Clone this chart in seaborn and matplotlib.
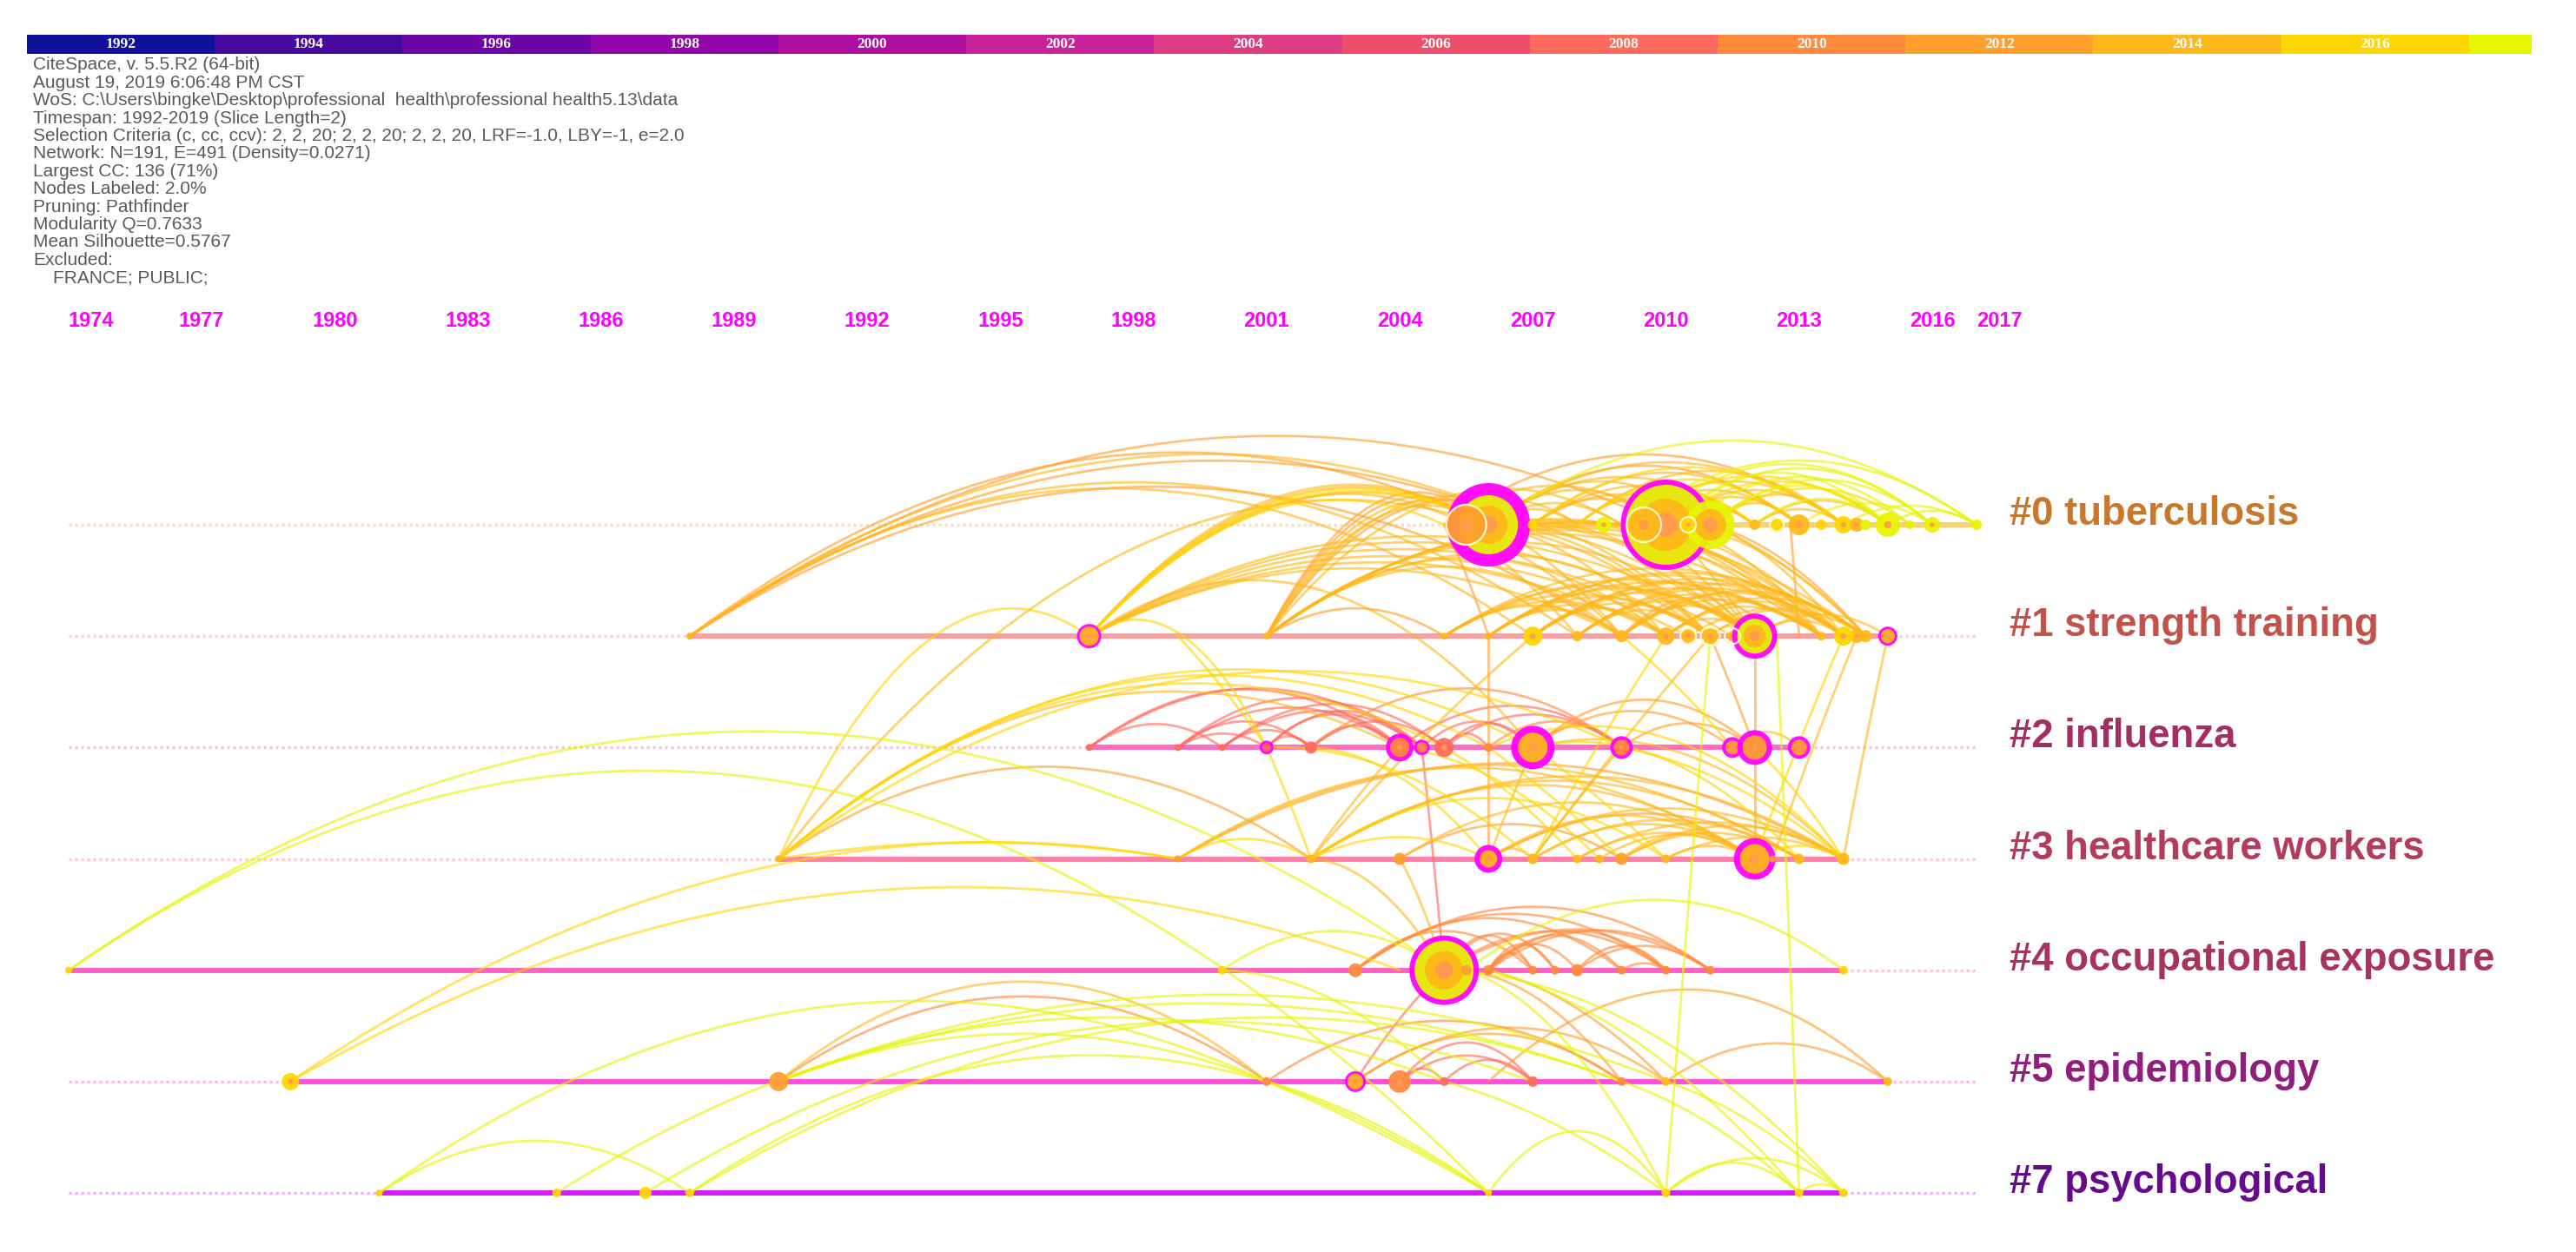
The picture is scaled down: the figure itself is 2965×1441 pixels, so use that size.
import numpy as np
import pandas as pd
import matplotlib
matplotlib.use("Agg")
import matplotlib.pyplot as plt
from matplotlib.colors import ListedColormap
import seaborn as sns

# ---- data ----

SLICE_YEARS = [1992, 1994, 1996, 1998, 2000, 2002, 2004, 2006, 2008, 2010, 2012, 2014, 2016, 2018]
SLICE_COLORS = ['#10109a', '#48099e', '#6c04a6', '#9006a8', '#ad0e9f', '#c8229a', '#dc3c82',
                '#ee4e6c', '#ff6a5c', '#ff8a3c', '#ff9f2e', '#ffb81a', '#ffd600', '#e6f500']

TIME_TICKS = [1974, 1977, 1980, 1983, 1986, 1989, 1992, 1995, 1998, 2001, 2004, 2007, 2010, 2013, 2016, 2017]

INFO_LINES = [
    'CiteSpace, v. 5.5.R2 (64-bit)',
    'August 19, 2019 6:06:48 PM CST',
    'WoS: C:\\Users\\bingke\\Desktop\\professional  health\\professional health5.13\\data',
    'Timespan: 1992-2019 (Slice Length=2)',
    'Selection Criteria (c, cc, ccv): 2, 2, 20; 2, 2, 20; 2, 2, 20, LRF=-1.0, LBY=-1, e=2.0',
    'Network: N=191, E=491 (Density=0.0271)',
    'Largest CC: 136 (71%)',
    'Nodes Labeled: 2.0%',
    'Pruning: Pathfinder',
    'Modularity Q=0.7633',
    'Mean Silhouette=0.5767',
    'Excluded:',
    '    FRANCE; PUBLIC;',
]

CLUSTER_NAMES = ['#0 tuberculosis', '#1 strength training', '#2 influenza', '#3 healthcare workers',
                 '#4 occupational exposure', '#5 epidemiology', '#7 psychological']
CLUSTER_COLORS = ['#c9772b', '#c2524a', '#a32f62', '#b23c5c', '#a6345f', '#8e1f7c', '#650a8a']
ROW_COLORS = ['#ffcf70', '#ff9c9c', '#ff6cc0', '#ff7fa8', '#ff60c4', '#ff4fdc', '#d61cff']
DOT_COLORS = ['#ffdcb8', '#ffd0d0', '#ffc0e0', '#ffc8d8', '#ffc0e4', '#ffb8ec', '#f0b0ff']

# nodes: year, radius px, magenta ring px, fill slice
NODES_0 = [(2006, 48, 14, 2018), (2005.5, 23, 0, 2012), (2007, 6, 0, 2016), (2008.6, 9, 0, 2018),
           (2010, 52, 6, 2018), (2009.5, 18, 0, 2014), (2011, 28, 0, 2018), (2010.5, 8, 0, 2016),
           (2012, 6, 0, 2014), (2012.5, 7, 0, 2016), (2013, 12, 0, 2014), (2013.5, 6, 0, 2016),
           (2014, 10, 0, 2016), (2014.3, 8, 0, 2014), (2014.5, 6, 0, 2018), (2015, 14, 0, 2018),
           (2015.5, 5, 0, 2018), (2016, 9, 0, 2018), (2017, 6, 0, 2018)]
NODES_1 = [(1988, 4, 0, 2014), (1997, 14, 3, 2014), (2001, 4, 0, 2014), (2005, 4, 0, 2014), (2006, 4, 0, 2014),
           (2007, 11, 0, 2016), (2008, 6, 0, 2014), (2009, 7, 0, 2014), (2010, 10, 0, 2014),
           (2010.5, 8, 0, 2014), (2011, 9, 0, 2014), (2011.5, 6, 0, 2014), (2012, 26, 6, 2018),
           (2013.5, 5, 0, 2014), (2014.3, 8, 0, 2014), (2014, 11, 0, 2016), (2014.5, 7, 0, 2014), (2015, 11, 3, 2014)]
NODES_2 = [(1997, 4, 0, 2008), (1999, 4, 0, 2008), (2000, 4, 0, 2008), (2001, 8, 3, 2008), (2002, 7, 0, 2008),
           (2004, 16, 5, 2010), (2004.5, 9, 3, 2010), (2005, 11, 0, 2008), (2006, 5, 0, 2010),
           (2007, 25, 8, 2014), (2009, 13, 4, 2010), (2011.5, 12, 4, 2012), (2012, 20, 6, 2012), (2013, 13, 4, 2012)]
NODES_3 = [(1990, 4, 0, 2014), (1999, 4, 0, 2012), (2002, 5, 0, 2014), (2004, 7, 0, 2012), (2006, 16, 6, 2014),
           (2007, 6, 0, 2014), (2008, 5, 0, 2014), (2008.5, 5, 0, 2014), (2009, 7, 0, 2012), (2010, 5, 0, 2014),
           (2012, 24, 7, 2014), (2012.4, 4, 0, 2012), (2013, 6, 0, 2014), (2014, 7, 0, 2014)]
NODES_4 = [(1974, 4, 0, 2016), (2000, 5, 0, 2016), (2003, 8, 0, 2010), (2005, 40, 6, 2018), (2005.5, 6, 0, 2012),
           (2006, 6, 0, 2010), (2007, 5, 0, 2010), (2007.5, 5, 0, 2010), (2008, 7, 0, 2010), (2009, 5, 0, 2010),
           (2010, 5, 0, 2010), (2011, 5, 0, 2010), (2014, 5, 0, 2016)]
NODES_5 = [(1979, 10, 0, 2016), (1990, 11, 0, 2012), (2001, 5, 0, 2010), (2003, 12, 3, 2014), (2004, 13, 0, 2010),
           (2005, 5, 0, 2008), (2007, 6, 0, 2008), (2009, 5, 0, 2010), (2010, 5, 0, 2014), (2015, 5, 0, 2014)]
NODES_6 = [(1981, 4, 0, 2016), (1985, 5, 0, 2016), (1987, 7, 0, 2016), (1988, 5, 0, 2016),
           (2006, 4, 0, 2016), (2010, 5, 0, 2016), (2013, 5, 0, 2016), (2014, 5, 0, 2016)]
ALL_NODES = [NODES_0, NODES_1, NODES_2, NODES_3, NODES_4, NODES_5, NODES_6]

# pale rings on top of nodes: row, year, radius px
PALE_RINGS = [(0, 2005.5, 23), (0, 2009.5, 20), (0, 2010.5, 9), (0, 2012.5, 8), (1, 2011.5, 9), (1, 2010.5, 9), (1, 2011, 11)]

# arcs inside one row: from year, to year, height px, slice
ARCS_0 = [(2006, 2017, 97, 2018), (2009, 2017, 74, 2018), (2009.5, 2016, 70, 2018), (2010, 2015, 60, 2018),
          (2010, 2016, 65, 2018), (2011, 2016, 52, 2018), (2010.5, 2015.5, 55, 2018), (2011, 2015, 45, 2018),
          (2012, 2015, 30, 2018), (2013, 2016, 25, 2018), (2014, 2017, 22, 2018), (2015, 2017, 16, 2018),
          (2005, 2014, 81, 2012), (2006, 2013, 68, 2012), (2006, 2012, 55, 2014), (2007, 2013, 60, 2014),
          (2007, 2012, 45, 2014), (2008, 2014, 62, 2014), (2009, 2014, 50, 2014), (2009, 2013, 40, 2014),
          (2010, 2014, 40, 2014), (2010, 2013, 32, 2014), (2010, 2012, 20, 2014), (2011, 2014, 35, 2014),
          (2011, 2013, 25, 2014), (2012, 2015, 28, 2014), (2012, 2014, 18, 2014), (2006, 2011, 50, 2014),
          (2006, 2010, 40, 2014), (2007, 2010, 30, 2014), (2008, 2011, 32, 2014), (2006, 2009, 25, 2014),
          (2005, 2008, 28, 2014), (2005, 2010, 45, 2014), (2007, 2011, 35, 2014), (2008, 2013, 52, 2016),
          (2009, 2012, 30, 2016), (2011, 2015.5, 42, 2016), (2006, 2014, 72, 2014), (2007, 2014, 66, 2016),
          (2008, 2012, 42, 2016), (2009, 2015, 56, 2016), (2010, 2015, 50, 2016), (2006, 2008, 18, 2014)]
ARCS_1 = [(1988, 2008, 177, 2014), (1988, 2007, 170, 2014), (1988, 2009, 172, 2012),
          (1997, 2012, 115, 2014), (1997, 2011.5, 108, 2014), (1997, 2011, 100, 2014),
          (1997, 2010.5, 92, 2014), (1997, 2010, 85, 2014), (1997, 2009, 78, 2014),
          (2001, 2014.5, 125, 2014), (2001, 2014, 122, 2014), (2001, 2013.5, 118, 2014), (2001, 2012, 108, 2014),
          (2001, 2011, 95, 2014), (2001, 2010, 90, 2014), (2001, 2009, 80, 2014), (2001, 2005, 32, 2012),
          (2005, 2014.5, 78, 2014), (2006, 2014, 70, 2014), (2005, 2013.5, 65, 2014), (2006, 2012, 55, 2014),
          (2007, 2014, 62, 2014), (2007, 2013.5, 55, 2014), (2007, 2012, 50, 2014), (2008, 2014, 55, 2014),
          (2008, 2012, 40, 2014), (2009, 2014, 50, 2014), (2009, 2012, 35, 2014), (2010, 2014, 40, 2014),
          (2010, 2012, 20, 2014), (2011, 2014, 30, 2014), (2010.5, 2014.5, 32, 2014), (2011, 2012, 12, 2014),
          (2012, 2014, 18, 2014), (2012, 2015, 25, 2014), (2005, 2010, 40, 2014), (2005, 2009, 35, 2014),
          (2006, 2009, 30, 2014), (2006, 2011, 45, 2014), (2007, 2010, 32, 2014), (2007, 2011, 38, 2014),
          (2008, 2011, 30, 2014), (2009, 2012.5, 45, 2012), (2006, 2014.5, 73, 2014), (2006, 2013.5, 62, 2014),
          (2007, 2014.5, 66, 2014), (2008, 2014.5, 60, 2014), (2008, 2013.5, 48, 2014), (2009, 2014.5, 52, 2014),
          (2009, 2013.5, 42, 2014), (2010, 2014.5, 44, 2014), (2010, 2013.5, 34, 2014), (2005, 2012, 58, 2014),
          (2005, 2011, 48, 2014), (2006, 2010, 36, 2014)]
ARCS_2 = [(1997, 2004, 67, 2008), (1997, 2004.5, 68, 2008), (1997, 2000, 27, 2008), (1999, 2004, 46, 2008),
          (1999, 2004.5, 57, 2008), (2000, 2004.5, 42, 2008), (2000, 2005, 50, 2008), (2001, 2004, 38, 2008),
          (2001, 2004.5, 42, 2008), (2002, 2004, 25, 2008), (2001, 2002, 13, 2008), (2000, 2002, 20, 2008),
          (1999, 2001, 16, 2008), (1999, 2002, 30, 2008), (2002, 2005, 30, 2008), (2004.5, 2007, 30, 2008),
          (2005, 2007, 28, 2008), (2005, 2006, 16, 2008), (2004, 2009, 48, 2008), (2006, 2009, 30, 2010),
          (2005, 2009, 38, 2008), (2007, 2009, 25, 2010), (2002, 2009, 68, 2010),
          (2007, 2012, 55, 2012), (2007, 2011.5, 42, 2012), (2009, 2012, 28, 2012), (2011.5, 2013, 18, 2014)]
ARCS_3 = [(1990, 2002, 106, 2012), (1990, 1999, 19, 2016), (1999, 2002, 23, 2016),
          (1999, 2014, 110, 2012), (1999, 2012, 105, 2014), (1999, 2013, 108, 2014), (2002, 2014, 95, 2014),
          (2002, 2012, 85, 2014), (2002, 2013, 90, 2014), (2002, 2010, 70, 2016), (2004, 2012, 65, 2014), (2004, 2009, 40, 2012),
          (2006, 2012, 50, 2014), (2006, 2013, 52, 2012), (2006, 2014, 58, 2014), (2007, 2012, 40, 2014),
          (2007, 2013, 45, 2014), (2008, 2012, 30, 2014), (2008, 2014, 42, 2014), (2009, 2012, 30, 2014),
          (2009, 2014, 38, 2014), (2009, 2013, 30, 2014), (2008.5, 2012, 28, 2014), (2010, 2012, 15, 2014),
          (2010, 2014, 25, 2014), (2012, 2014, 15, 2016), (2002, 2006, 25, 2016), (2006, 2007, 12, 2014)]
ARCS_4 = [(2003, 2011, 73, 2010), (2003, 2010, 65, 2010), (2003, 2009, 60, 2010), (2003, 2007, 45, 2010),
          (2005, 2010, 45, 2010), (2005, 2011, 47, 2010), (2006, 2010, 45, 2010), (2006, 2011, 46, 2010),
          (2006, 2009, 40, 2010), (2006, 2008, 30, 2010), (2006, 2007, 20, 2010), (2005, 2007.5, 42, 2010),
          (2005, 2007, 40, 2010), (2006, 2007.5, 30, 2010), (2008, 2011, 28, 2010), (2008, 2010, 28, 2010),
          (2009, 2010, 8, 2010), (2005.5, 2014, 81, 2018), (2000, 2005, 45, 2018)]
ARCS_5 = [(1990, 2001, 98, 2010), (1990, 2001, 115, 2014), (1990, 2001, 55, 2018), (1990, 2010, 100, 2018),
          (1990, 2009, 90, 2018), (2001, 2009, 70, 2010), (2003, 2010, 62, 2012), (2003, 2009, 55, 2012),
          (2004, 2007, 45, 2008), (2004, 2007, 30, 2008), (2004, 2005, 15, 2008), (2005, 2007, 25, 2008),
          (2010, 2015, 44, 2012), (2006, 2015, 106, 2012)]
ARCS_6 = [(1981, 1988, 60, 2018), (2006, 2010, 71, 2018), (2010, 2013, 35, 2018),
          (2010, 2014, 40, 2018), (2013, 2014, 10, 2018)]
ALL_ARCS = [ARCS_0, ARCS_1, ARCS_2, ARCS_3, ARCS_4, ARCS_5, ARCS_6]

# arcs between rows: row, year, row, year, bulge px, slice
LINKS = [(1, 1988, 0, 2010, 160, 2012), (1, 1988, 0, 2006, 140, 2012), (1, 1988, 0, 2007, 130, 2012), (1, 1988, 0, 2007, 138, 2014),
         (1, 1997, 0, 2006, 100, 2014), (1, 1997, 0, 2006, 90, 2014), (1, 1997, 0, 2006, 95, 2016), (1, 1997, 0, 2005, 80, 2016),
         (1, 1997, 0, 2006, 97, 2014), (1, 1997, 0, 2006, 92, 2016), (1, 1997, 0, 2005.5, 88, 2014),
         (1, 1997, 2, 2007, 120, 2014),
         (1, 2001, 0, 2006, 90, 2012), (1, 2001, 0, 2006, 78, 2014), (1, 2001, 0, 2007, 85, 2014), (1, 2001, 0, 2009, 95, 2014),
         (1, 2001, 0, 2006, 84, 2012), (1, 2001, 0, 2007, 80, 2012), (1, 2001, 0, 2006, 72, 2014),
         (3, 1990, 1, 1997, 128, 2016), (3, 1990, 0, 2006, 165, 2014),
         (3, 1990, 2, 2007, 147, 2016), (3, 1990, 2, 2006, 140, 2016), (3, 1990, 2, 2009, 145, 2016),
         (3, 1990, 2, 2004, 120, 2014), (3, 1990, 2, 2005, 130, 2016), (1, 1997, 2, 2001, 68, 2016),
         (4, 1974, 4, 2005, 275, 2018), (4, 1974, 6, 2006, 346, 2018),
         (5, 1979, 3, 1999, 110, 2016), (5, 1979, 4, 2004, 153, 2016),
         (6, 1981, 5, 2001, 150, 2018), (6, 1985, 5, 2005, 130, 2018), (6, 1987, 5, 2007, 125, 2018),
         (6, 1988, 5, 2001, 82, 2018), (6, 1988, 5, 2009, 130, 2018),
         # row 0 down to row 1
         (0, 2005, 1, 2012, 40, 2014), (0, 2006, 1, 2012, 45, 2014), (0, 2006, 1, 2014, 50, 2014), (0, 2007, 1, 2013.5, 45, 2014),
         (0, 2007, 1, 2012, 30, 2014), (0, 2009, 1, 2014, 30, 2014), (0, 2010, 1, 2014.5, 30, 2014), (0, 2010, 1, 2013.5, 25, 2014),
         (0, 2011, 1, 2014.5, 20, 2012), (0, 2011, 1, 2014, 18, 2014), (0, 2006, 1, 2009, 15, 2014), (0, 2005, 1, 2009, 20, 2014),
         (0, 2005, 1, 2008, 14, 2014), (0, 2006, 1, 2011, 30, 2014), (0, 2010, 1, 2012, 8, 2014), (0, 2005, 1, 2006, 6, 2012),
         (0, 2006, 1, 2013.5, 48, 2014), (0, 2006, 1, 2010, 24, 2014), (0, 2005, 1, 2011, 36, 2014), (0, 2007, 1, 2011, 22, 2014),
         (0, 2007, 1, 2014, 44, 2014), (0, 2009, 1, 2012, 16, 2014), (0, 2009, 1, 2013.5, 26, 2014), (0, 2011, 1, 2014.5, 14, 2014),
         # near straight links
         (1, 2006, 3, 2006, 0, 2012), (1, 2013, 0, 2012.8, 4, 2012), (1, 2011, 6, 2010, 6, 2018), (1, 2012.5, 6, 2013, 6, 2018),
         (2, 2004.5, 4, 2005, 5, 2008), (4, 2005, 5, 2003, 8, 2008), (1, 1999, 2, 2001, 5, 2016), (2, 2001, 3, 2002, 3, 2016),
         (1, 2007, 3, 2002, 10, 2014), (2, 2004, 3, 2002, 4, 2014), (1, 2012, 2, 2012, 2, 2012), (2, 2012, 3, 2012, 2, 2012),
         (1, 2015, 3, 2014, 6, 2014), (1, 2014, 3, 2012, 5, 2016), (1, 2014.3, 3, 2012.4, 5, 2014), (1, 2011, 3, 2007, 5, 2014), (1, 2010, 3, 2007, 5, 2016),
         (1, 2009, 2, 2011.5, 6, 2016), (1, 2011, 2, 2012, 2, 2012), (2, 2007, 3, 2010, 5, 2016), (2, 2007, 3, 2006, 2, 2014),
         (2, 2009, 3, 2007, 3, 2014), (2, 2006, 3, 2009, 4, 2016), (2, 2005, 3, 2008, 10, 2016), (2, 2004, 3, 2008.5, 25, 2016),
         (2, 2002, 3, 2006, 30, 2016), (2, 2001, 3, 2007, 35, 2016), (2, 2007, 3, 2013, 50, 2016), (2, 2007, 3, 2014, 55, 2014),
         (2, 2009, 3, 2014, 20, 2016), (2, 2012, 3, 2014, 8, 2016), (2, 2006, 3, 2014, 75, 2016),
         # rows 4 and 5 down to the bottom
         (5, 2001, 6, 2006, 10, 2018), (5, 2001, 6, 2006, 14, 2018), (5, 2001, 6, 2006, 6, 2018), (4, 2000, 5, 2005, 30, 2018),
         (5, 2005, 6, 2010, 15, 2018), (5, 2009, 6, 2013, 15, 2018), (5, 2010, 6, 2014, 15, 2018), (4, 2005.5, 6, 2010, 45, 2018),
         (4, 2006, 5, 2010, 20, 2012), (4, 2005, 5, 2009, 35, 2012), (3, 2002, 4, 2005, 30, 2014), (3, 2004, 4, 2005, 10, 2014),
         (4, 2005, 6, 2014, 60, 2018), (4, 2006, 6, 2013, 40, 2018)]

# ---- layout of the page ----

W, H = 2965, 1441
PX_PER_YEAR = 51.07
X_1974 = 79
ROW_TOP = 604
ROW_STEP = 128.17
ARC_STEPS = 60


def row_of_px(py):
    return (py - ROW_TOP) / ROW_STEP


def year_of_px(px):
    return 1974 + (px - X_1974) / PX_PER_YEAR


def fx(px):
    return px / W


def fy(py):
    return 1 - py / H


def area(r_px):
    # marker area in pt^2 for a radius in pixels at dpi 100
    return (2 * r_px * 72 / 100) ** 2


slice_color = dict(zip(SLICE_YEARS, SLICE_COLORS))

# one long table of arcs, parabola from a to b with a bulge upward
links = [(r, a, r, b, h, s) for r, arcs in enumerate(ALL_ARCS) for a, b, h, s in arcs] + LINKS
rows_out = []
for i, (ra, ya, rb, yb, h, s) in enumerate(links):
    t = np.linspace(0, 1, ARC_STEPS)
    rows_out.append(pd.DataFrame({
        'arc': i, 'slice': s, 't': t,
        'x': ya + (yb - ya) * t,
        'y': ra + (rb - ra) * t - 4 * t * (1 - t) * h / ROW_STEP,
    }))
arc_df = pd.concat(rows_out, ignore_index=True)

# node layers in draw order
layers = []
for r_idx, nodes in enumerate(ALL_NODES):
    for year, r, ring, fill in nodes:
        if ring:
            layers.append((year, r_idx, r, '#ff00ff'))
        inner = r - ring
        layers.append((year, r_idx, inner, slice_color[fill]))
        if fill == 2018 and inner >= 15:
            layers.append((year, r_idx, 0.65 * inner, slice_color[2014]))
        if inner >= 8:
            layers.append((year, r_idx, 0.3 * inner, '#ff9a50'))
node_df = pd.DataFrame(layers, columns=['x', 'y', 'r', 'color'])
node_df['area'] = node_df['r'].map(area)

ring_df = pd.DataFrame(PALE_RINGS, columns=['y', 'x', 'r'])
ring_df['area'] = ring_df['r'].map(area)

# row lines, solid between first and last node, dotted over the whole span
solid = []
for r_idx, nodes in enumerate(ALL_NODES):
    years = [n[0] for n in nodes]
    solid.append({'row': r_idx, 'x': min(years), 'y': r_idx})
    solid.append({'row': r_idx, 'x': max(years), 'y': r_idx})
solid_df = pd.DataFrame(solid)
dotted_df = pd.DataFrame([{'row': r, 'x': x, 'y': r} for r in range(7) for x in (1974, 2017)])

# ---- drawing ----

sns.set_theme(style='white')
plt.rcParams['font.family'] = ['Liberation Sans', 'DejaVu Sans']

fig = plt.figure(figsize=(W / 100, H / 100), dpi=100, facecolor='white')
ax = fig.add_axes([0, 0, 1, 1])

sns.lineplot(data=dotted_df, x='x', y='y', hue='row', palette=dict(enumerate(DOT_COLORS)),
             units='row', estimator=None, linewidth=2.4, linestyle=(0, (1.0, 1.1)), legend=False, ax=ax)
sns.lineplot(data=solid_df, x='x', y='y', hue='row', palette=dict(enumerate(ROW_COLORS)),
             units='row', estimator=None, linewidth=4.3, legend=False, ax=ax)
sns.lineplot(data=arc_df, x='x', y='y', hue='slice', palette=slice_color, units='arc', estimator=None,
             sort=False, linewidth=2.0, alpha=0.62, legend=False, ax=ax)

sizes = {a: a for a in node_df['area'].unique()}
sns.scatterplot(data=node_df, x='x', y='y', hue='color', palette={c: c for c in node_df['color'].unique()},
                size='area', sizes=sizes, linewidth=0, alpha=0.94, legend=False, ax=ax, zorder=5)
for _, rg in ring_df.iterrows():
    ax.scatter(rg['x'], rg['y'], s=rg['area'], facecolors='none', edgecolors='#fff8c0', linewidths=1.6, zorder=6)

ax.set_xlim(year_of_px(0), year_of_px(W))
ax.set_ylim(row_of_px(H), row_of_px(0))
ax.set_axis_off()

# time ticks, the two end ones sit a bit to the right of their year
for yr in TIME_TICKS:
    shift = 26 / PX_PER_YEAR if yr in (1974, 2017) else 0
    ax.text(yr + shift, row_of_px(370), str(yr), color='#ff00ff', fontsize=17, fontweight='bold',
            ha='center', va='center')

# cluster labels on the row lines
for r_idx, (name, col) in enumerate(zip(CLUSTER_NAMES, CLUSTER_COLORS)):
    fig.text(fx(2313), fy(ROW_TOP + r_idx * ROW_STEP), name, color=col, fontsize=32.8, fontweight='bold',
             ha='left', va='baseline')

# info block
for i, line in enumerate(INFO_LINES):
    fig.text(fx(38), fy(75 + i * 20.4), line, color='#5a5a5a', fontsize=15, ha='left', va='center')

# slice colour bar: three cells a slice, the last slice cut to one cell
cells = np.repeat(np.arange(len(SLICE_YEARS)), 3)[:40].reshape(1, -1)
bar_ax = fig.add_axes([fx(31), fy(62), fx(2914 - 31), (62 - 40) / H])
sns.heatmap(cells, cmap=ListedColormap(SLICE_COLORS), vmin=-0.5, vmax=len(SLICE_YEARS) - 0.5,
            cbar=False, xticklabels=False, yticklabels=False, ax=bar_ax)
for i, yr in enumerate(SLICE_YEARS[:-1]):
    bar_ax.text(3 * i + 1.5, 0.5, str(yr), color='white', fontsize=12.5, fontweight='bold',
                family=['Liberation Serif', 'DejaVu Serif'], ha='center', va='center')

fig.savefig('out.png', dpi=100, facecolor='white')
